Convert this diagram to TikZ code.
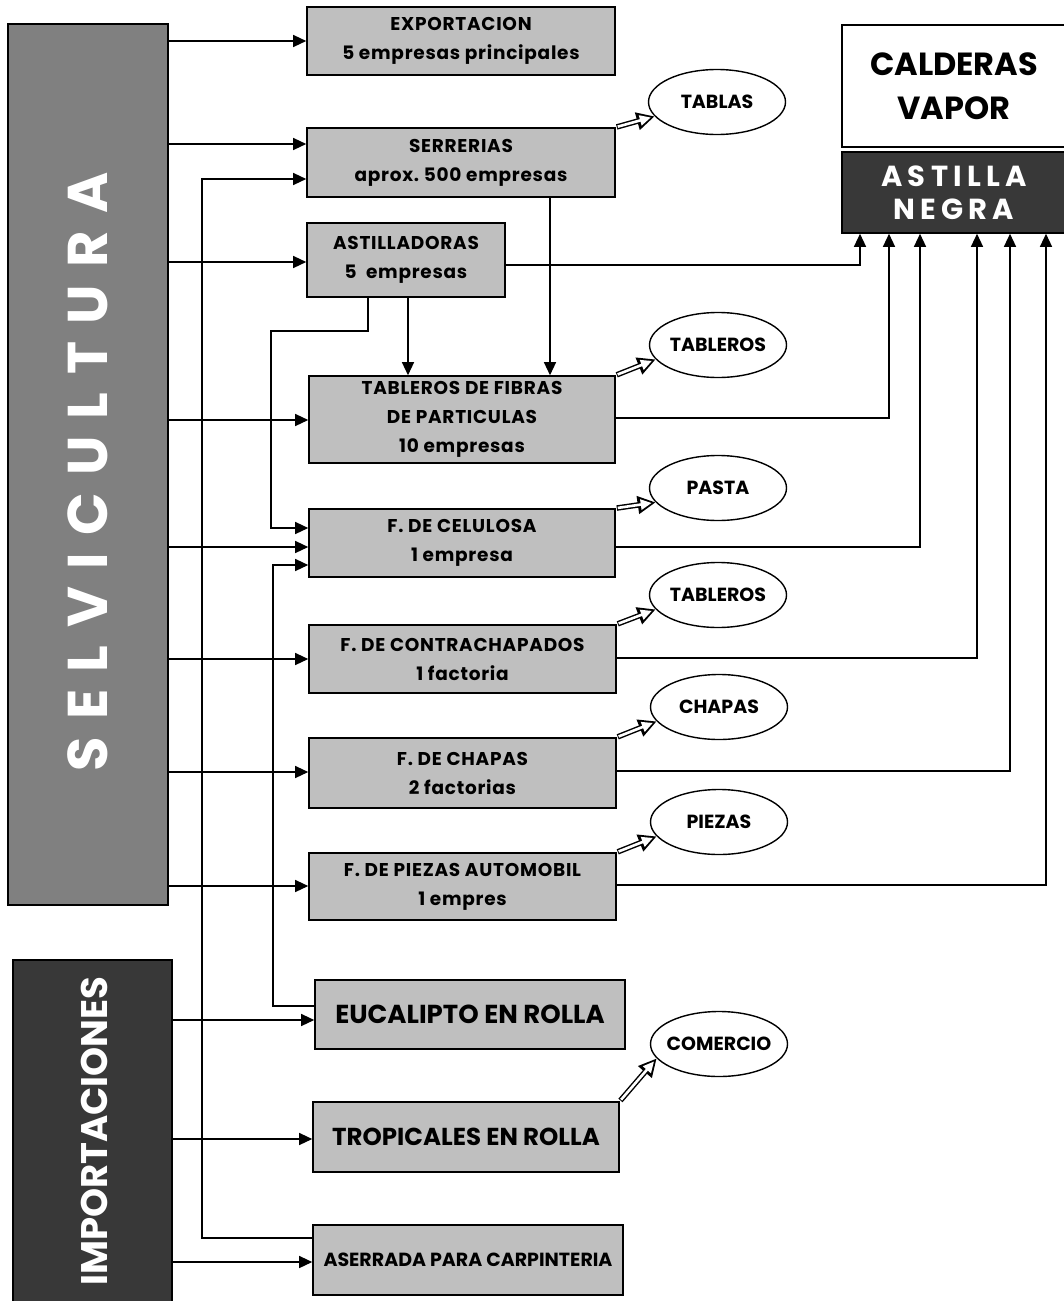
\documentclass[tikz,border=0pt]{standalone}
\usepackage{fontspec}
\setmainfont{Poppins}
\newfontfamily\selvfont{Poppins}[LetterSpace=31]
\newfontfamily\astfont{Poppins}[LetterSpace=18]
\newfontfamily\boxfont{Poppins}[LetterSpace=4]
\usetikzlibrary{arrows.meta,shapes.geometric,calc}
\begin{document}
\begin{tikzpicture}[x=1pt,y=-1pt,
  lbox/.style={draw=black, line width=1.6pt, fill=black!25, align=center, inner sep=0pt,
    font=\boxfont\bfseries\fontsize{18.5}{29}\selectfont},
  oval/.style={draw, line width=1.4pt, ellipse, fill=white, minimum width=137pt,
    minimum height=65pt, inner xsep=-20pt, inner ysep=0pt, font=\bfseries\fontsize{19}{22}\selectfont},
  arr/.style={line width=1.3pt, -{Triangle[length=13pt,width=12pt]}},
  hol/.style={line width=5.5pt, shorten <=1pt, -{Triangle[length=18pt,width=17pt]},
    postaction={draw=white, line width=2.6pt, shorten >=4pt, shorten <=2pt,
      -{Triangle[length=11pt,width=10pt]}}}]
\useasboundingbox (0,0) rectangle (1063,1301);

% big side boxes
\node[draw, line width=1.6pt, fill=black!50, minimum width=160pt, minimum height=881pt] (selv) at (88,464.5) {};
\node[rotate=90, text=white, font=\selvfont\bfseries\fontsize{56}{60}\selectfont] (selvtxt) at (88,472) {SELVICULTURA};
\node[draw, line width=1.6pt, fill=black!78, minimum width=159pt, minimum height=346pt] (imp) at (92.5,1133) {};
\node[rotate=90, text=white, font=\bfseries\fontsize{37}{40}\selectfont] (imptxt) at (94,1131) {IMPORTACIONES};

% calderas
\node[draw, line width=1.6pt, fill=white, minimum width=224pt, minimum height=122pt, align=center,
  font=\bfseries\fontsize{32}{44}\selectfont] (cald) at (954,86) {CALDERAS\\VAPOR};
\node[draw, line width=1.6pt, fill=black!78, minimum width=224pt, minimum height=81pt, align=center,
  text=white, font=\astfont\bfseries\fontsize{29}{33}\selectfont] (astn) at (954,192.5) {ASTILLA\\NEGRA};

% process boxes
\node[lbox, minimum width=308pt, minimum height=68pt] (exp) at (461,41) {EXPORTACION\\5 empresas principales};
\node[lbox, minimum width=308pt, minimum height=69pt] (ser) at (461,162.5) {SERRERIAS\\aprox.\ 500 empresas};
\node[lbox, minimum width=198pt, minimum height=74pt] (ast) at (406,260) {ASTILLADORAS\\5\ \ empresas};
\node[lbox, minimum width=306pt, minimum height=87pt] (tab) at (462,419.5) {TABLEROS DE FIBRAS\\DE PARTICULAS\\10 empresas};
\node[lbox, minimum width=306pt, minimum height=68pt] (cel) at (462,543) {F. DE CELULOSA\\1 empresa};
\node[lbox, minimum width=307pt, minimum height=68pt] (con) at (462.5,659) {F. DE CONTRACHAPADOS\\1 factoria};
\node[lbox, minimum width=307pt, minimum height=70pt] (cha) at (462.5,773) {F. DE CHAPAS\\2 factorias};
\node[lbox, minimum width=307pt, minimum height=67pt] (pie) at (462.5,886.5) {F. DE PIEZAS AUTOMOBIL\\1 empres};
\node[lbox, minimum width=310pt, minimum height=69pt, font=\bfseries\fontsize{26}{28}\selectfont] (euc) at (470,1014.5) {EUCALIPTO EN ROLLA};
\node[lbox, minimum width=306pt, minimum height=70pt, font=\bfseries\fontsize{24.5}{28}\selectfont] (tro) at (466,1137) {TROPICALES EN ROLLA};
\node[lbox, minimum width=310pt, minimum height=70pt, font=\bfseries\fontsize{19}{28}\selectfont] (ase) at (468,1260) {ASERRADA PARA CARPINTERIA};

% product ellipses
\node[oval] (tablas) at (717,102) {TABLAS};
\node[oval] (tableros) at (718,345) {TABLEROS};
\node[oval] (pasta) at (718,488) {PASTA};
\node[oval] (tablerosb) at (718,595) {TABLEROS};
\node[oval] (chapas) at (719,707) {CHAPAS};
\node[oval] (piezas) at (719,822) {PIEZAS};
\node[oval] (comercio) at (719,1044) {COMERCIO};

% arrows from SELVICULTURA
\foreach \n/\y in {exp/41, ser/144, ast/262, tab/420, cel/547, con/659, cha/772, pie/886}
  \draw[arr] (selv.east |- 0,\y) -- (\n.west |- 0,\y);
% arrows from IMPORTACIONES
\foreach \n/\y in {euc/1020, tro/1139, ase/1262}
  \draw[arr] (imp.east |- 0,\y) -- (\n.west |- 0,\y);

% internal flows
\draw[arr] (ase.west |- 0,1238) -- (202,1238) |- (ser.west |- 0,179);
\draw[arr] (euc.west |- 0,1006) -- (273,1006) |- (cel.west |- 0,565);
\draw[arr] (ast.south -| 368,0) |- (271,331) |- (cel.west |- 0,528);
\draw[arr] (ast.south -| 408,0) -- (tab.north -| 408,0);
\draw[arr] (ser.south -| 550,0) -- (tab.north -| 550,0);

% to ASTILLA NEGRA
\foreach \n/\y/\x in {ast/265/860, tab/418/889, cel/547/920, con/658/977, cha/771/1010, pie/885/1046}
  \draw[arr] (\n.east |- 0,\y) -| (astn.south -| \x,0);

% products
\draw[hol] (ser.north east) -- (tablas.193);
\draw[hol] (tab.north east) -- (tableros.193);
\draw[hol] (cel.north east) -- (pasta.193);
\draw[hol] (con.north east) -- (tablerosb.193);
\draw[hol] (cha.north east) -- (chapas.193);
\draw[hol] (pie.north east) -- (piezas.193);
\draw[hol] (tro.north east) -- (comercio.193);
\end{tikzpicture}
\end{document}
